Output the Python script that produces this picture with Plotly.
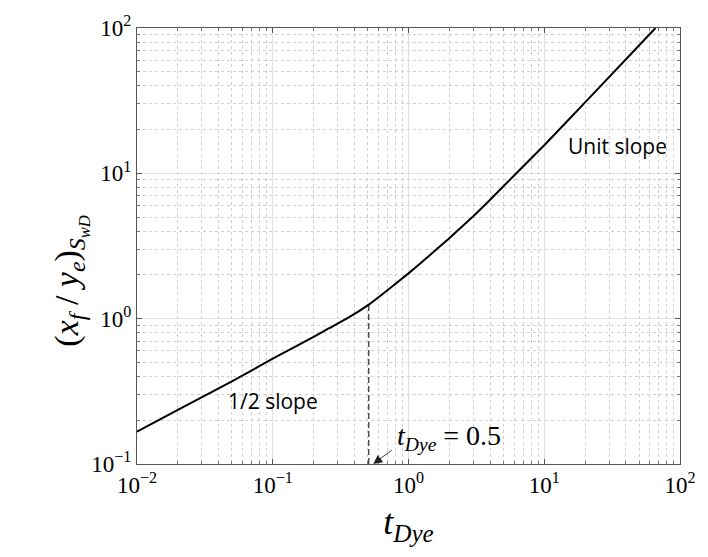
import numpy as np
import plotly.graph_objects as go

# data
t_vals = [0.01, 0.02, 0.05, 0.1, 0.2, 0.26, 0.35, 0.51, 0.7, 1.0, 1.4, 1.96, 3.0, 3.86, 6.05, 10.0, 20.0, 40.0, 66.0]
y_vals = [0.167, 0.236, 0.37, 0.53, 0.75, 0.86, 1.0, 1.25, 1.57, 2.05, 2.68, 3.52, 5.07, 6.37, 9.75, 15.6, 30.8, 61.0, 100.0]
t_mark = 0.51
y_mark = 1.25
x_ticks = [0.01, 0.1, 1, 10, 100]
x_tick_text = ["10<sup>\u22122</sup>", "10<sup>\u22121</sup>", "10<sup>0</sup>", "10<sup>1</sup>", "10<sup>2</sup>"]
y_ticks = [0.1, 1, 10, 100]
y_tick_text = ["10<sup>\u22121</sup>", "10<sup>0</sup>", "10<sup>1</sup>", "10<sup>2</sup>"]
minor_digits = [2, 3, 4, 5, 6, 7, 8, 9]

x_minor = [d * base for base in x_ticks[:-1] for d in minor_digits]
y_minor = [d * base for base in y_ticks[:-1] for d in minor_digits]

serif = "Liberation Serif, DejaVu Serif, serif"
sans = "Open Sans, Noto Sans, sans-serif"

fig = go.Figure()
fig.add_trace(go.Scatter(x=t_vals, y=y_vals, mode="lines",
                         line=dict(color="black", width=2, shape="spline", smoothing=0.4),
                         showlegend=False, hoverinfo="skip"))
fig.add_trace(go.Scatter(x=[t_mark, t_mark], y=[0.1, y_mark], mode="lines",
                         line=dict(color="black", width=1, dash="6px,3px"),
                         showlegend=False, hoverinfo="skip"))

def axis_common(minor_vals):
    return dict(
        type="log", showline=True, linecolor="#555", linewidth=1, mirror="ticks",
        ticks="inside", ticklen=5, tickcolor="#555",
        showgrid=True, gridcolor="#e0e0e0", gridwidth=1,
        minor=dict(tickmode="array", tickvals=minor_vals, ticks="inside", ticklen=3,
                   tickcolor="#777", showgrid=True, gridcolor="#cfcfcf", griddash="dot", gridwidth=1),
        tickfont=dict(family=serif, size=23, color="black"),
        zeroline=False, layer="below traces",
    )

fig.update_xaxes(**axis_common(x_minor), range=[-2, 2], tickmode="array", tickvals=x_ticks, ticktext=x_tick_text,
                 title=dict(text="<i>t</i><sub><i>Dye</i></sub>", font=dict(family=serif, size=36, color="black"),
                            standoff=12))
fig.update_yaxes(**axis_common(y_minor), range=[-1, 2], tickmode="array", tickvals=y_ticks, ticktext=y_tick_text)

fig.add_annotation(xref="paper", yref="paper", x=-0.168, y=0.42, textangle=-90,
                   text="(<i>x<sub>f</sub></i> / <i>y<sub>e</sub></i>)<sub><i>S<sub>wD</sub></i></sub>",
                   showarrow=False, font=dict(family=serif, size=34, color="black"))

fig.add_annotation(x=np.log10(34.5), y=np.log10(15.5), text="Unit slope", showarrow=False,
                   font=dict(family=sans, size=21, color="black"))
fig.add_annotation(x=np.log10(0.1), y=np.log10(0.27), text="1/2 slope", showarrow=False,
                   font=dict(family=sans, size=21, color="black"))
fig.add_annotation(x=np.log10(0.55), y=-1, text="", showarrow=True, arrowhead=2, arrowsize=2.0,
                   arrowwidth=0.9, arrowcolor="#222", ax=20, ay=-15, standoff=0)
fig.add_annotation(x=np.log10(0.55), y=-1, xanchor="left", yanchor="middle", xshift=22, yshift=27,
                   text="<i>t</i><sub><i>Dye</i></sub> = 0.5", showarrow=False,
                   font=dict(family=serif, size=28, color="black"))

fig.update_layout(width=708, height=557, margin=dict(l=137, r=25, t=19, b=93),
                  plot_bgcolor="white", paper_bgcolor="white")
fig.write_html("out.html")
